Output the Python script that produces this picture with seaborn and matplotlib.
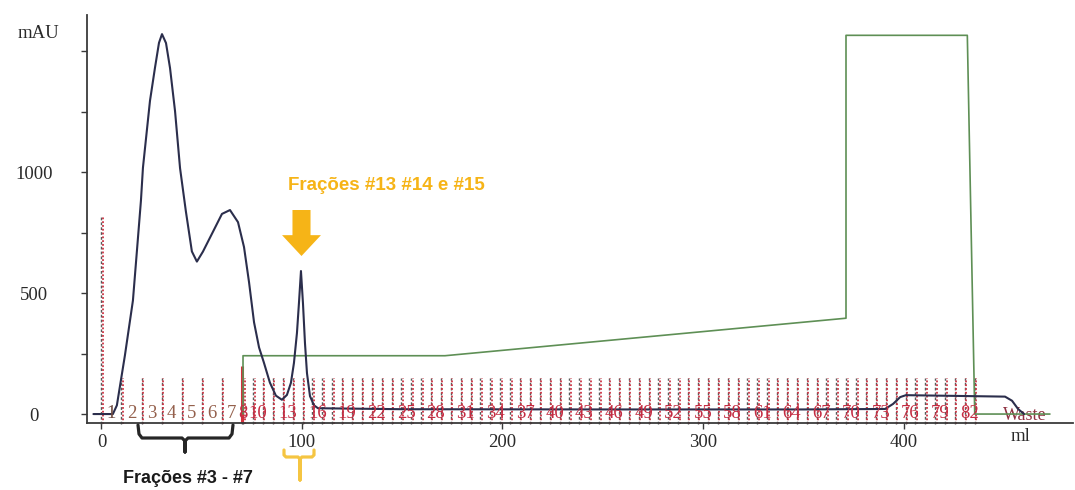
import matplotlib
matplotlib.use("Agg")
import matplotlib.pyplot as plt
from matplotlib.lines import Line2D
from matplotlib.transforms import Affine2D
import seaborn as sns

# UV absorbance trace: elution volume (ml) and absorbance (mAU)
uv_volume = [-4, 5.7, 7.7, 11.7, 15.7, 17.7, 19.7, 20.7, 24.2, 26.7, 28.7, 30.2,
             32.2, 34.2, 36.7, 39.2, 42.1, 45.1, 47.6, 50.6, 55.6, 60.1, 64.1,
             68.1, 71.1, 73.6, 76.1, 78.6, 81.0, 84.0, 87.0, 90.0, 92.5, 94.5,
             96.0, 97.5, 98.5, 99.5, 100.5, 101.5, 102.5, 104.0, 106.0, 108.0,
             150, 250, 350, 390.8, 394.8, 398.3, 401.2, 450.6, 454.1, 457.1, 460.1]
uv_mau = [0, 0, 36, 242, 469, 675, 882, 1018, 1294, 1431, 1534, 1570,
          1533, 1430, 1252, 1016, 838, 672, 630, 671, 753, 827, 843,
          793, 690, 545, 379, 275, 213, 130, 76, 59, 79, 129,
          211, 335, 459, 591, 458, 293, 169, 74, 36, 24,
          20, 19, 19, 21, 42, 70, 78, 72, 55, 21, 0]

# gradient / conductivity trace, drawn on the same vertical scale
gradient_volume = [70.6, 70.6, 171.3, 371.3, 371.3, 431.8, 435.5, 473]
gradient_level = [0, 241, 241, 396, 1565, 1565, 0, 0]

# fraction collector: fractions 1-8 have individual edges, 9-82 a fixed size
n_fractions = 82
first_fraction_edges = [0, 10, 20, 30, 40, 50, 60, 70, 70.7]
late_fraction_width = 4.93
labeled_fractions = list(range(1, 9)) + list(range(10, 83, 3))

x_ticks = [0, 100, 200, 300, 400]
y_ticks = [0, 250, 500, 750, 1000, 1250, 1500]
y_tick_labels = ["0", "", "500", "", "1000", "", ""]

UV_COLOR = "#2b2e4c"
GRAD_COLOR = "#5e8f55"
FRAC_RED = "#c42c42"
GOLD = "#f6b417"

sns.set_theme(style="white")
plt.rcParams["font.family"] = ["Liberation Serif", "DejaVu Serif"]

W, H = 1075, 490
fig = plt.figure(figsize=(W / 100, H / 100), dpi=100)
fig.patch.set_facecolor("white")
ax = fig.add_axes([87 / W, (H - 423) / H, (1073 - 87) / W, (423 - 15) / H])
ax.set_facecolor("none")
ax.set_xlim(-7.2, 484.5)
ax.set_ylim(-37, 1649)

# fraction boundaries
late_count = n_fractions - (len(first_fraction_edges) - 1)
edges = first_fraction_edges + [first_fraction_edges[-1] + late_fraction_width * k
                                for k in range(1, late_count + 1)]
for i, e in enumerate(edges):
    top = 814 if i == 0 else 150
    ax.vlines(e, -40, top, colors="#5a5a5a", linestyles=(0, (2, 1.5)),
              linewidth=1.0, clip_on=False, zorder=1)
    ax.vlines(e + 0.7, -40, top, colors="#cc3444", linestyles=(0, (1, 1.1)),
              linewidth=1.3, clip_on=False, zorder=1)
ax.vlines(first_fraction_edges[7], -37, 200, colors="#d3303c", linewidth=2.2, zorder=1)

# fraction numbers
for n in labeled_fractions:
    c = (edges[n - 1] + edges[n]) / 2
    col = "#94604c" if n <= 7 else FRAC_RED
    if n == 1:
        col = "#6e4a40"
    ax.text(c, 2, str(n), ha="center", va="center", fontsize=13.5, color=col, zorder=6)
ax.text(460.6, -4, "Waste", ha="center", va="center", fontsize=13,
        color="#8e3040", zorder=3)

# traces
sns.lineplot(x=gradient_volume, y=gradient_level, ax=ax, color=GRAD_COLOR,
             linewidth=1.2, sort=False, estimator=None, zorder=4)
sns.lineplot(x=uv_volume, y=uv_mau, ax=ax, color=UV_COLOR,
             linewidth=1.5, sort=False, estimator=None, zorder=5)

# axes styling
sns.despine(ax=ax)
for s in ("left", "bottom"):
    ax.spines[s].set_color("#3a3a3a")
    ax.spines[s].set_linewidth(1.3)
ax.set_xticks(x_ticks)
ax.set_xticklabels([str(v) for v in x_ticks])
ax.set_yticks(y_ticks)
ax.set_yticklabels(y_tick_labels)
ax.tick_params(axis="both", direction="out", length=4, width=1, color="#3a3a3a",
               labelcolor="#2a2a2a", labelsize=13.5, bottom=True, left=True)
ax.tick_params(axis="y", pad=34)
ax.tick_params(axis="x", pad=4)
for lab in ax.get_yticklabels():
    lab.set_horizontalalignment("center")
ax.set_xlabel("")
ax.set_ylabel("")

# overlay elements placed in figure pixel coordinates (origin top-left)
px = Affine2D().scale(1 / W, -1 / H).translate(0, 1) + fig.transFigure

fig.text(38, 34, "mAU", transform=px, ha="center", va="center", fontsize=13.5,
         color="#2a2a2a")
fig.text(1021, 436, "ml", transform=px, ha="center", va="center", fontsize=13.5,
         color="#2a2a2a")

fig.text(386, 190, "Frações #13 #14 e #15", transform=px, ha="center",
         va="baseline", fontsize=13.5, fontweight="bold", color=GOLD,
         family=["Liberation Sans", "DejaVu Sans"])
fig.text(188, 483, "Frações #3 - #7", transform=px, ha="center",
         va="baseline", fontsize=13, fontweight="bold", color="#1a1a1a",
         family=["Liberation Sans", "DejaVu Sans"])

ax.annotate("", xy=(301.5, 256), xycoords=px, xytext=(301.5, 210), textcoords=px,
            annotation_clip=False,
            arrowprops=dict(arrowstyle="simple,head_length=1.5,head_width=2.8,tail_width=1.3",
                            color=GOLD, lw=0, shrinkA=0, shrinkB=0, mutation_scale=10))

black_brace = [(138, 425), (139, 434), (142, 438), (182, 438), (185, 441), (185, 452),
               (185, 441), (188, 438), (229, 438), (232, 434), (233, 425)]
gold_brace = [(284, 450), (284, 455), (286, 457), (298, 457), (300, 459), (300, 480),
              (300, 459), (302, 457), (312, 457), (314, 455), (314, 450)]
for pts, col in ((black_brace, "#262626"), (gold_brace, "#f5c542")):
    xs, ys = zip(*pts)
    fig.add_artist(Line2D(xs, ys, transform=px, color=col, linewidth=2.3,
                          solid_joinstyle="round", solid_capstyle="round"))

fig.savefig("out.png", dpi=100)
